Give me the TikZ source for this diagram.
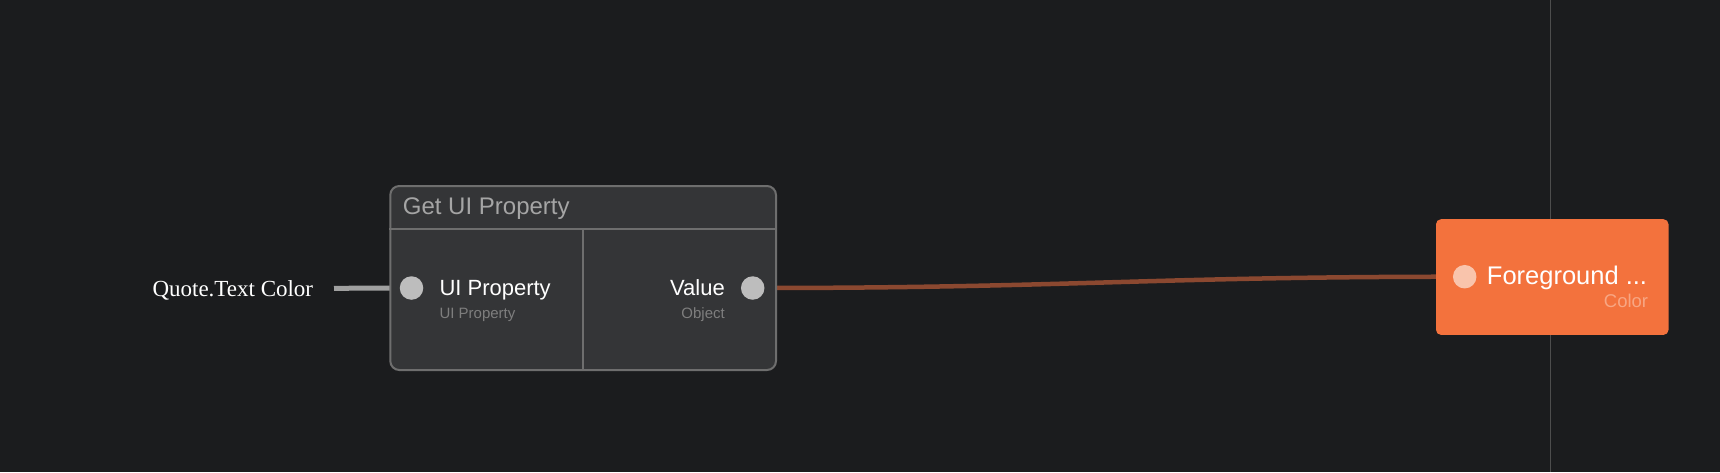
\documentclass[tikz,border=0pt]{standalone}
\usepackage{fontspec}
\setmainfont{Liberation Sans}
\newfontfamily\serifq{Liberation Serif}
\definecolor{bgc}{HTML}{1B1C1E}
\definecolor{boxfill}{HTML}{343537}
\definecolor{boxline}{HTML}{6E6E6E}
\definecolor{portgray}{HTML}{BDBDBD}
\definecolor{subtext}{HTML}{7E7E7E}
\definecolor{titletext}{HTML}{A5A5A5}
\definecolor{nodeorange}{HTML}{F3723D}
\definecolor{wireor}{HTML}{8B4830}
\definecolor{vline}{HTML}{4D4D4D}
\definecolor{orport}{HTML}{F9C4AC}
\definecolor{orsub}{HTML}{F8A683}
\definecolor{graywire}{HTML}{A0A0A0}
\pgfdeclarelayer{bglayer}
\pgfdeclarelayer{wires}
\pgfsetlayers{bglayer,wires,main}
\tikzset{
  port/.style={circle, inner sep=0, minimum size=23.5},
  lbl/.style={inner sep=0, text=white, font=\fontsize{22}{26}\selectfont},
  sublbl/.style={inner sep=0, text=subtext, font=\fontsize{15}{18}\selectfont},
  wire/.style={line width=4.5, line cap=round},
}
\begin{document}
\begin{tikzpicture}[x=1pt,y=-1pt]
\useasboundingbox (0,0) rectangle (1720,472);
\begin{pgfonlayer}{bglayer}
\fill[bgc] (0,0) rectangle (1720,472);
\coordinate (vtop) at (1550.7,0);
\coordinate (vbot) at (1550.7,472);
\draw[vline, line width=1.5] (vtop) -- (vbot);
\end{pgfonlayer}

% Get UI Property box
\node[draw=boxline, fill=boxfill, line width=2, rounded corners=9, inner sep=0,
      minimum width=385.7, minimum height=184, anchor=north west] (box) at (389.3,185) {};
\coordinate (hl) at (389.3,229.3);
\coordinate (hr) at (775,229.3);
\coordinate (vt) at (582.7,229.3);
\coordinate (vb) at (582.7,369);
\draw[boxline, line width=2] (hl) -- (hr);
\draw[boxline, line width=2] (vt) -- (vb);
\node[anchor=base west, inner sep=0, text=titletext, font=\fontsize{24}{28}\selectfont] (title) at (402.7,214.3) {Get UI Property};

\node[port, fill=portgray] (pin) at (411.5,288) {};
\node[port, fill=portgray] (pout) at (752.7,288) {};
\node[lbl, anchor=base west] (inlbl) at (439.3,295) {UI Property};
\node[sublbl, anchor=base west] (insub) at (439.3,318.3) {UI Property};
\node[lbl, anchor=base east] (outlbl) at (725,295) {Value};
\node[sublbl, anchor=base east] (outsub) at (725,318.3) {Object};

% Quote label and wire
\node[anchor=base west, inner sep=0, text=white, font=\serifq\fontsize{23}{27}\selectfont] (quote) at (152.3,296.7) {Quote.Text Color};
\coordinate (qend) at (334,288.3);

% Foreground node
\node[fill=nodeorange, rounded corners=5, inner sep=0, minimum width=232.5, minimum height=115.7, anchor=north west] (fg) at (1435.8,219) {};
\node[port, fill=orport] (orp) at (1464.7,276.7) {};
\node[anchor=base west, inner sep=0, text=white, font=\fontsize{25.5}{30}\selectfont] (fglbl) at (1486.7,284.3) {Foreground ...};
\node[anchor=base east, inner sep=0, text=orsub, font=\fontsize{18.5}{22}\selectfont] (fgsub) at (1648.3,307.3) {Color};

\begin{pgfonlayer}{wires}
\draw[graywire, line width=5] (qend) -- (pin.center);
\draw[wireor, wire] (pout.center) .. controls +(320,0) and +(-320,0) .. (orp.center);
\end{pgfonlayer}
\end{tikzpicture}
\end{document}
